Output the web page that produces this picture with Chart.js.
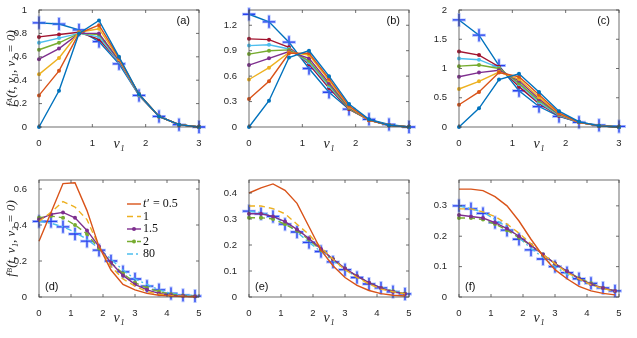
<!DOCTYPE html>
<html>
<head>
<meta charset="utf-8">
<script src="https://cdn.jsdelivr.net/npm/chart.js@4.4.1/dist/chart.umd.min.js"></script>
<style>
  body { margin: 0; background: #fff; width: 637px; height: 338px; position: relative; overflow: hidden; }
  canvas { position: absolute; }
</style>
</head>
<body>
<canvas id="pa" width="209" height="160" style="left:0;top:0"></canvas>
<canvas id="pb" width="209" height="160" style="left:210px;top:0"></canvas>
<canvas id="pc" width="209" height="160" style="left:420px;top:0"></canvas>
<canvas id="pd" width="209" height="160" style="left:0;top:170px"></canvas>
<canvas id="pe" width="209" height="160" style="left:210px;top:170px"></canvas>
<canvas id="pf" width="209" height="160" style="left:420px;top:170px"></canvas>
<script>
// velocity grids
const topV = [0, 0.375, 0.75, 1.125, 1.5, 1.875, 2.25, 2.625, 3];
const botV = [0, 0.375, 0.75, 1.125, 1.5, 1.875, 2.25, 2.625, 3, 3.375, 3.75, 4.125, 4.5, 4.875];

// species A, panel (a): 7 time snapshots + final state (crosses)
const aRows = [
  [0, 0.31, 0.80, 0.91, 0.60, 0.28, 0.09, 0.02, 0],
  [0.27, 0.48, 0.80, 0.87, 0.59, 0.28, 0.09, 0.02, 0],
  [0.45, 0.59, 0.81, 0.84, 0.58, 0.28, 0.09, 0.02, 0],
  [0.58, 0.67, 0.80, 0.80, 0.57, 0.28, 0.09, 0.02, 0],
  [0.66, 0.72, 0.80, 0.79, 0.57, 0.28, 0.09, 0.02, 0],
  [0.72, 0.76, 0.80, 0.77, 0.56, 0.27, 0.09, 0.02, 0],
  [0.77, 0.79, 0.81, 0.75, 0.56, 0.27, 0.09, 0.02, 0]
];
const aFinal = [0.89, 0.88, 0.83, 0.73, 0.54, 0.27, 0.09, 0.02, 0];

const bRows = [
  [0, 0.31, 0.82, 0.90, 0.60, 0.27, 0.09, 0.02, 0],
  [0.33, 0.54, 0.87, 0.87, 0.57, 0.25, 0.08, 0.02, 0],
  [0.56, 0.70, 0.88, 0.85, 0.55, 0.24, 0.08, 0.02, 0],
  [0.73, 0.81, 0.89, 0.81, 0.52, 0.23, 0.08, 0.02, 0],
  [0.86, 0.90, 0.91, 0.78, 0.50, 0.22, 0.08, 0.02, 0],
  [0.96, 0.97, 0.92, 0.76, 0.48, 0.22, 0.08, 0.02, 0],
  [1.04, 1.03, 0.94, 0.74, 0.46, 0.21, 0.08, 0.02, 0]
];
const bFinal = [1.33, 1.24, 1.00, 0.69, 0.41, 0.21, 0.09, 0.03, 0];

const cRows = [
  [0, 0.32, 0.81, 0.91, 0.60, 0.27, 0.09, 0.02, 0],
  [0.38, 0.60, 0.93, 0.86, 0.55, 0.24, 0.08, 0.02, 0],
  [0.65, 0.78, 0.94, 0.82, 0.51, 0.23, 0.08, 0.02, 0],
  [0.86, 0.93, 0.97, 0.79, 0.48, 0.22, 0.08, 0.02, 0],
  [1.04, 1.06, 1.00, 0.75, 0.45, 0.21, 0.08, 0.02, 0],
  [1.17, 1.15, 1.01, 0.73, 0.42, 0.20, 0.08, 0.02, 0],
  [1.29, 1.23, 1.03, 0.69, 0.40, 0.19, 0.08, 0.02, 0]
];
const cFinal = [1.83, 1.57, 1.05, 0.62, 0.35, 0.18, 0.08, 0.03, 0.01];

// species B, legend times t' = 0.5, 1, 1.5, 2, 80 + reference (crosses)
const tLabels = ["t′ = 0.5", "1", "1.5", "2", "80"];

const dRows = [
  [0.31, 0.47, 0.63, 0.635, 0.48, 0.28, 0.15, 0.07, 0.04, 0.02, 0.01, 0.005, 0.002, 0.001],
  [0.42, 0.47, 0.53, 0.50, 0.43, 0.28, 0.17, 0.10, 0.06, 0.03, 0.015, 0.008, 0.004, 0.002],
  [0.43, 0.46, 0.47, 0.44, 0.37, 0.28, 0.19, 0.12, 0.07, 0.04, 0.02, 0.01, 0.005, 0.003],
  [0.44, 0.45, 0.44, 0.40, 0.35, 0.27, 0.19, 0.13, 0.08, 0.05, 0.03, 0.015, 0.008, 0.004],
  [0.42, 0.41, 0.39, 0.36, 0.32, 0.27, 0.21, 0.15, 0.10, 0.07, 0.04, 0.02, 0.012, 0.007]
];
const dRef = [0.42, 0.42, 0.39, 0.35, 0.31, 0.26, 0.20, 0.14, 0.10, 0.06, 0.04, 0.02, 0.01, 0.005];

const eRows = [
  [0.40, 0.42, 0.435, 0.41, 0.36, 0.27, 0.18, 0.12, 0.075, 0.045, 0.025, 0.013, 0.007, 0.004],
  [0.35, 0.35, 0.34, 0.32, 0.28, 0.24, 0.19, 0.145, 0.105, 0.075, 0.05, 0.03, 0.02, 0.012],
  [0.32, 0.32, 0.31, 0.29, 0.26, 0.225, 0.185, 0.145, 0.11, 0.08, 0.055, 0.035, 0.02, 0.012],
  [0.305, 0.305, 0.30, 0.28, 0.255, 0.22, 0.18, 0.145, 0.11, 0.08, 0.055, 0.035, 0.022, 0.013],
  [0.33, 0.325, 0.31, 0.285, 0.25, 0.21, 0.175, 0.14, 0.105, 0.077, 0.055, 0.037, 0.024, 0.015]
];
const eRef = [0.33, 0.32, 0.31, 0.28, 0.25, 0.21, 0.175, 0.135, 0.105, 0.075, 0.05, 0.035, 0.02, 0.012];

const fRows = [
  [0.355, 0.355, 0.35, 0.33, 0.30, 0.25, 0.19, 0.135, 0.09, 0.06, 0.035, 0.02, 0.012, 0.007],
  [0.29, 0.29, 0.28, 0.265, 0.24, 0.21, 0.175, 0.14, 0.11, 0.08, 0.06, 0.04, 0.028, 0.018],
  [0.27, 0.265, 0.26, 0.245, 0.225, 0.2, 0.17, 0.14, 0.11, 0.085, 0.06, 0.042, 0.03, 0.02],
  [0.26, 0.26, 0.255, 0.24, 0.22, 0.195, 0.17, 0.14, 0.11, 0.085, 0.062, 0.045, 0.03, 0.02],
  [0.30, 0.29, 0.28, 0.255, 0.23, 0.195, 0.16, 0.13, 0.10, 0.075, 0.055, 0.04, 0.028, 0.02]
];
const fRef = [0.30, 0.29, 0.275, 0.245, 0.22, 0.19, 0.155, 0.125, 0.10, 0.08, 0.06, 0.045, 0.03, 0.02];

const colors = ['#0072BD', '#D95319', '#EDB120', '#7E2F8E', '#77AC30', '#4DBEEE', '#A2142F'];
const tickFont = { family: 'Liberation Sans', size: 9.5 };
const mathFont = { family: 'Liberation Serif', size: 14, style: 'italic' };

const pts = (v, ys) => ys.map((y, i) => ({ x: v[i], y: y }));

function crossSets(v, ys, lineColor) {
  // light halo crosses + dark thin crosses on top
  return [
    { data: pts(v, ys), showLine: !!lineColor, borderColor: lineColor || 'transparent', borderWidth: 1.4,
      pointStyle: 'cross', pointRadius: 7, pointBorderWidth: 3, pointBorderColor: 'rgba(80,120,255,0.45)', clip: false },
    { data: pts(v, ys), showLine: false, pointStyle: 'cross', pointRadius: 6,
      pointBorderWidth: 1.3, pointBorderColor: '#0a14e0', clip: false }
  ];
}

function topSets(rows, fin) {
  const sets = rows.map((r, i) => ({
    data: pts(topV, r), borderColor: colors[i], backgroundColor: colors[i], borderWidth: 1.4,
    pointRadius: 2, pointBorderWidth: 0, clip: false
  }));
  return sets.concat(crossSets(topV, fin, colors[0]));
}

function botSets(rows, ref) {
  const st = [
    { c: colors[1], dash: [], r: 0 },
    { c: colors[2], dash: [6, 4], r: 0 },
    { c: colors[3], dash: [], r: 2 },
    { c: colors[4], dash: [6, 4], r: 2 },
    { c: colors[5], dash: [6, 3, 2, 3], r: 0 }
  ];
  const sets = rows.map((r, i) => ({
    label: tLabels[i], data: pts(botV, r), borderColor: st[i].c, backgroundColor: st[i].c,
    borderDash: st[i].dash, borderWidth: 1.4, pointRadius: st[i].r, pointBorderWidth: 0, clip: false
  }));
  return sets.concat(crossSets(botV, ref, null));
}

const frame = {
  id: 'frame',
  afterDraw(chart, args, o) {
    const { ctx, chartArea: a, scales: { x, y } } = chart;
    ctx.save();
    ctx.strokeStyle = '#4a4a4a';
    ctx.lineWidth = 0.8;
    ctx.strokeRect(a.left, a.top, a.right - a.left, a.bottom - a.top);
    ctx.beginPath();
    x.ticks.forEach(t => {
      const p = x.getPixelForValue(t.value);
      ctx.moveTo(p, a.bottom); ctx.lineTo(p, a.bottom - 3);
      ctx.moveTo(p, a.top); ctx.lineTo(p, a.top + 3);
    });
    y.ticks.forEach(t => {
      const p = y.getPixelForValue(t.value);
      ctx.moveTo(a.left, p); ctx.lineTo(a.left + 3, p);
      ctx.moveTo(a.right, p); ctx.lineTo(a.right - 3, p);
    });
    ctx.stroke();

    ctx.fillStyle = '#111';
    ctx.font = '11px "Liberation Sans"';
    ctx.textBaseline = 'middle';
    if (o.corner === 'tr') {
      ctx.textAlign = 'right';
      ctx.fillText(o.label, a.right - 9, a.top + 11);
    } else {
      ctx.textAlign = 'left';
      ctx.fillText(o.label, a.left + 6, a.bottom - 10);
    }

    if (o.legend) {
      const x0 = a.left + 88, w = 14;
      chart.data.datasets.forEach((ds, i) => {
        if (!ds.label) return;
        const yy = a.top + 24 + i * 12.5;
        ctx.strokeStyle = ds.borderColor;
        ctx.lineWidth = 1.4;
        ctx.setLineDash(ds.borderDash || []);
        ctx.beginPath(); ctx.moveTo(x0, yy); ctx.lineTo(x0 + w, yy); ctx.stroke();
        ctx.setLineDash([]);
        if (ds.pointRadius) {
          ctx.fillStyle = ds.borderColor;
          ctx.beginPath(); ctx.arc(x0 + w / 2, yy, 2, 0, Math.PI * 2); ctx.fill();
        }
        ctx.fillStyle = '#111';
        ctx.textAlign = 'left';
        let tx = x0 + w + 2;
        let txt = ds.label;
        if (txt.startsWith('t')) {
          ctx.font = 'italic 12px "Liberation Serif"';
          ctx.fillText('t′', tx, yy);
          tx += ctx.measureText('t′').width + 1;
          txt = txt.slice(2);
        }
        ctx.font = '12px "Liberation Serif"';
        ctx.fillText(txt, tx, yy);
      });
    }
    ctx.restore();
  }
};

const fmt = v => String(Math.round(v * 100) / 100);

function panel(id, sets, xMax, xStep, yMax, yStep, yTitle, label, corner, legend, titlePad) {
  new Chart(document.getElementById(id), {
    type: 'line',
    data: { datasets: sets },
    plugins: [frame],
    options: {
      responsive: false,
      animation: false,
      layout: { padding: { top: 5, right: 10, left: 0, bottom: 0 } },
      plugins: {
        legend: { display: false },
        tooltip: { enabled: false },
        frame: { label: label, corner: corner, legend: legend }
      },
      scales: {
        x: {
          type: 'linear', min: 0, max: xMax,
          grid: { display: false }, border: { display: false },
          ticks: { stepSize: xStep, color: '#262626', font: tickFont, padding: 3, maxRotation: 0, callback: fmt },
          title: { display: true, text: 'v₁', color: '#222', font: mathFont, padding: { top: 0, bottom: titlePad } },
          afterFit: s => { s.height = 33; }
        },
        y: {
          min: 0, max: yMax,
          grid: { display: false }, border: { display: false },
          ticks: { stepSize: yStep, includeBounds: false, color: '#262626', font: tickFont, padding: 4, callback: fmt },
          title: { display: !!yTitle, text: yTitle, color: '#222', font: { family: 'Liberation Serif', size: 13, style: 'italic' }, padding: { top: 4, bottom: 0 } },
          afterFit: s => { s.width = 39; }
        }
      }
    }
  });
}

panel('pa', topSets(aRows, aFinal), 3, 1, 1, 0.2, 'fᴬ(t, v₁, v₂ = 0)', '(a)', 'tr', false, 7);
panel('pb', topSets(bRows, bFinal), 3, 1, 1.38, 0.3, '', '(b)', 'tr', false, 7);
panel('pc', topSets(cRows, cFinal), 3, 1, 2, 0.5, '', '(c)', 'tr', false, 7);
panel('pd', botSets(dRows, dRef), 5, 1, 0.65, 0.2, 'fᴮ(t, v₁, v₂ = 0)', '(d)', 'bl', true, 3);
panel('pe', botSets(eRows, eRef), 5, 1, 0.45, 0.1, '', '(e)', 'bl', false, 3);
panel('pf', botSets(fRows, fRef), 5, 1, 0.385, 0.1, '', '(f)', 'bl', false, 3);
</script>
</body>
</html>
